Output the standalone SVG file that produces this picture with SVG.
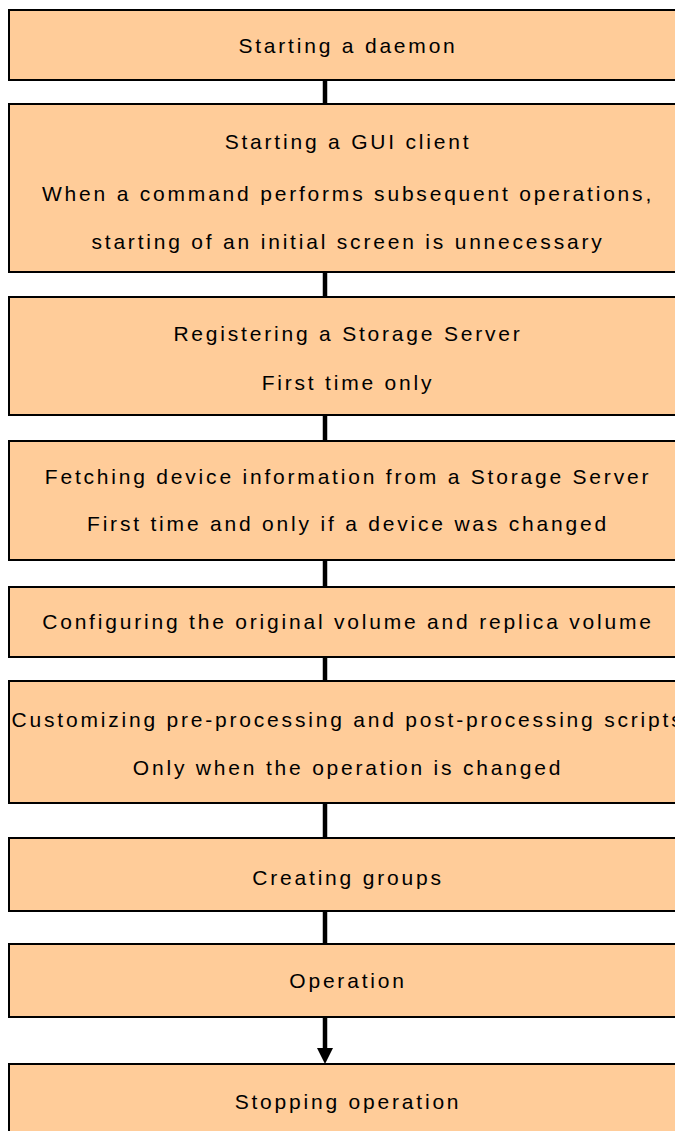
<svg xmlns="http://www.w3.org/2000/svg" width="675" height="1131" viewBox="0 0 675 1131">
<style>
.box{fill:#FFCC99;stroke:#000;stroke-width:2}
.t{font-family:"Liberation Sans",Arial,sans-serif;font-size:21px;letter-spacing:2.8px;fill:#000;text-anchor:middle}
.c{stroke:#000;stroke-width:4.5;fill:none}
</style>
<g id="connectors">
<line class="c" x1="325" y1="80" x2="325" y2="104"/>
<line class="c" x1="325" y1="272" x2="325" y2="297"/>
<line class="c" x1="325" y1="415" x2="325" y2="441"/>
<line class="c" x1="325" y1="560" x2="325" y2="587"/>
<line class="c" x1="325" y1="657" x2="325" y2="681"/>
<line class="c" x1="325" y1="803" x2="325" y2="838"/>
<line class="c" x1="325" y1="911" x2="325" y2="944"/>
<line class="c" x1="325" y1="1017" x2="325" y2="1050"/>
<path d="M317,1048 L333,1048 L325,1064 Z" fill="#000"/>
</g>
<g id="n1"><rect class="box" x="9" y="10" width="700" height="70"/><text class="t" x="348" y="53">Starting a daemon</text></g>
<g id="n2"><rect class="box" x="9" y="104" width="700" height="168"/><text class="t" x="348" y="149">Starting a GUI client</text><text class="t" x="348" y="201">When a command performs subsequent operations,</text><text class="t" x="348" y="249">starting of an initial screen is unnecessary</text></g>
<g id="n3"><rect class="box" x="9" y="297" width="700" height="118"/><text class="t" x="348" y="341">Registering a Storage Server</text><text class="t" x="348" y="390">First time only</text></g>
<g id="n4"><rect class="box" x="9" y="441" width="700" height="119"/><text class="t" x="348" y="484">Fetching device information from a Storage Server</text><text class="t" x="348" y="531">First time and only if a device was changed</text></g>
<g id="n5"><rect class="box" x="9" y="587" width="700" height="70"/><text class="t" x="348" y="629">Configuring the original volume and replica volume</text></g>
<g id="n6"><rect class="box" x="9" y="681" width="700" height="122"/><text class="t" x="348" y="727">Customizing pre-processing and post-processing scripts</text><text class="t" x="348" y="775">Only when the operation is changed</text></g>
<g id="n7"><rect class="box" x="9" y="838" width="700" height="73"/><text class="t" x="348" y="885">Creating groups</text></g>
<g id="n8"><rect class="box" x="9" y="944" width="700" height="73"/><text class="t" x="348" y="988">Operation</text></g>
<g id="n9"><rect class="box" x="9" y="1064" width="700" height="90"/><text class="t" x="348" y="1109">Stopping operation</text></g>
</svg>
